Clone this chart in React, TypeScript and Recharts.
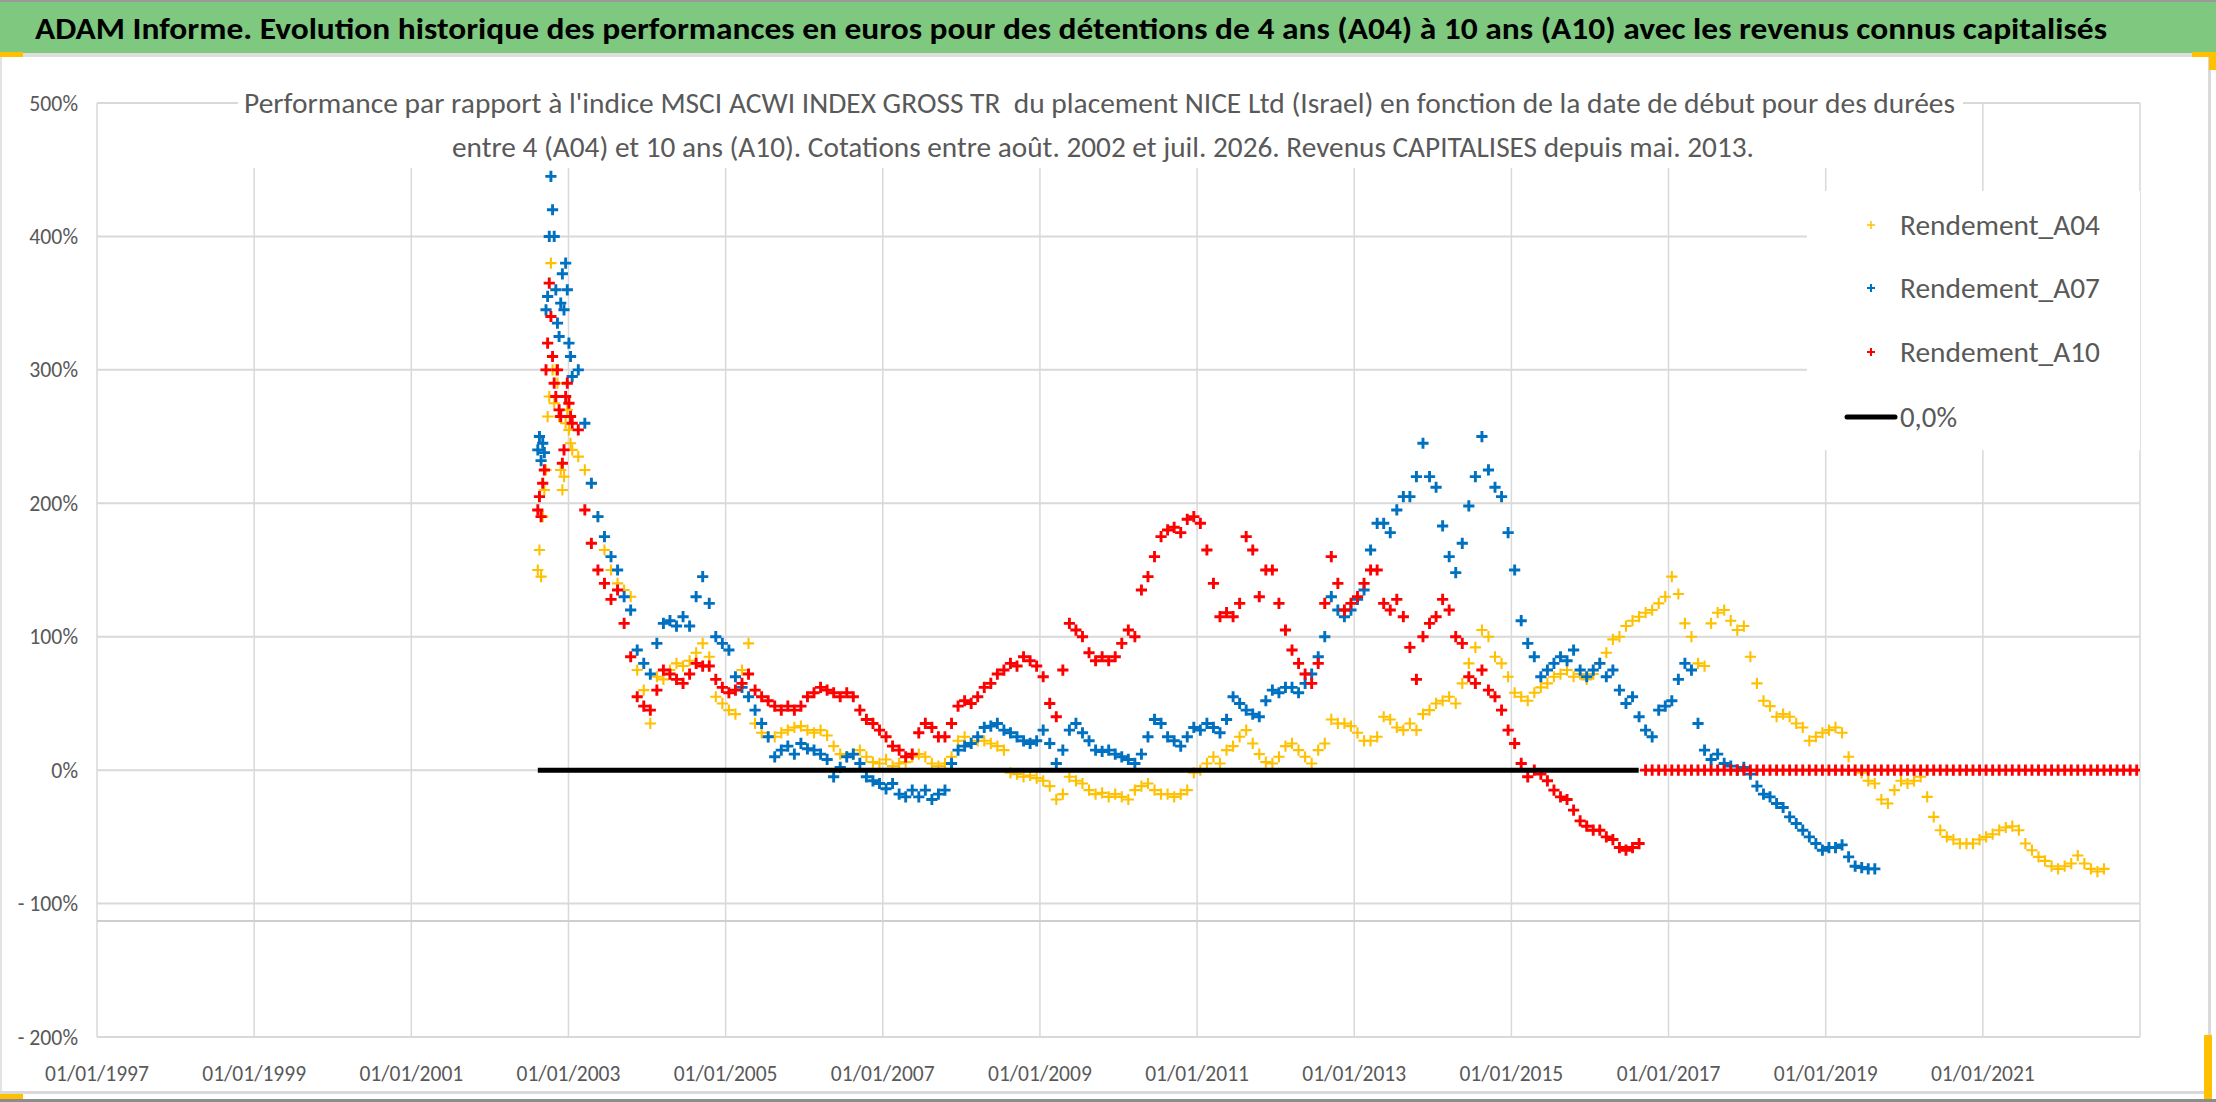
import React from 'react';
import { ScatterChart, Scatter, XAxis, YAxis, CartesianGrid, ReferenceLine, Legend } from 'recharts';

// ---------- axes ----------
const X_DOMAIN = [1997, 2023];
const X_TICKS = [1997, 1999, 2001, 2003, 2005, 2007, 2009, 2011, 2013, 2015, 2017, 2019, 2021];
const Y_DOMAIN = [-200, 500];
const Y_TICKS = [-200, -100, 0, 100, 200, 300, 400, 500];
const AXIS_CROSS = -113;

// ---------- sampling of the series (decimal years) ----------
const EARLY_START = 2002.61; // weekly samples, Aug 2002 - Jan 2003
const EARLY_STEP = 1 / 48;
const MONTHLY_START = 2003.125; // monthly samples from Feb 2003
const MONTHLY_STEP = 1 / 12;
const A10_TAIL_START = 2016.708;

// ---------- Rendement_A04 (%) ----------
const A04_EARLY = [150, 165, 145, 190, 210, 225, 265, 280, 380, 300, 275, 300, 290, 265, 225, 210, 220, 260, 270, 255, 245, 240];
const A04_MONTHLY = [
  235, 225, 215, 190, 165, 150, 140, 135, 130, 75, 60, 35, 70, 68, 75, 80, 78, 82, 88, 95,
  85, 55, 50, 45, 42, 75, 95, 35, 28, 25, 25, 28, 30, 32, 33, 30, 28, 30, 26, 18,
  12, 10, 12, 15, 10, 6, 5, 8, 3, 5, 6, 10, 12, 10, 5, 3,
  5, 10, 22, 25, 20, 22, 22, 20, 18, 15, -2, -3, -5, -4, -6, -8, -12, -22, -18, -5,
  -8, -10, -15, -18, -17, -20, -18, -20, -22, -15, -12, -10, -15, -18, -18, -20, -18, -15, -2, 0,
  5, 10, 5, 15, 18, 25, 30, 20, 12, 6, 5, 10, 18, 20, 15, 10, 5, 15, 20, 38, 35,
  35, 33, 28, 22, 22, 25, 40, 38, 32, 30, 35, 30, 42, 45, 50, 52, 55, 50, 65, 80,
  92, 105, 100, 85, 80, 70, 58, 55, 52, 58, 62, 65, 70, 72, 75, 70, 72, 68, 72, 80,
  88, 98, 100, 108, 112, 115, 118, 120, 125, 130, 145, 132, 110, 100, 80, 78, 110, 118, 120, 112, 105,
  108, 85, 65, 52, 48, 40, 42, 40, 35, 32, 22, 25, 28, 30, 32, 28, 10, 0, -2, -8,
  -10, -22, -25, -15, -8, -10, -8, -5, -20, -35, -45, -50, -52, -55, -55, -55, -52, -50, -48, -45,
  -43, -42, -45, -55, -60, -65, -68, -72, -74, -72, -70, -64, -70, -74, -76, -74,
];

// ---------- Rendement_A07 (%) ----------
const A07_EARLY = [240, 250, 232, 245, 238, 345, 355, 400, 445, 420, 400, 360, 335, 325, 350, 372, 345, 380, 360, 320, 310, 295];
const A07_MONTHLY = [
  300, 260, 215, 190, 175, 160, 150, 130, 120, 90, 80, 72, 95, 110, 112, 108, 115, 108, 130, 145,
  125, 100, 95, 90, 70, 62, 55, 45, 35, 25, 10, 15, 18, 12, 20, 16, 15, 12, 8, -5,
  2, 10, 12, 5, -5, -8, -10, -14, -10, -18, -20, -15, -20, -15, -22, -18,
  -15, 5, 15, 18, 20, 25, 32, 33, 35, 30, 28, 25, 22, 20, 22, 30, 20, 5, 15, 30,
  35, 28, 22, 15, 14, 15, 12, 10, 8, 5, 12, 25, 38, 35, 25, 22, 18, 25, 32, 30,
  35, 32, 28, 38, 55, 50, 45, 42, 40, 52, 60, 58, 62, 62, 58, 65, 72, 85, 100, 130, 120,
  115, 120, 128, 135, 165, 185, 185, 178, 195, 205, 205, 220, 245, 220, 212, 183, 160, 148, 170, 198,
  220, 250, 225, 212, 205, 178, 150, 112, 95, 85, 70, 75, 80, 85, 82, 90, 75, 70, 75, 80,
  70, 75, 60, 50, 55, 40, 30, 25, 45, 48, 52, 68, 80, 75, 35, 15, 8, 12, 5, 3, 0,
  2, -3, -12, -18, -20, -25, -28, -35, -40, -45, -50, -55, -60, -58, -58, -56, -65, -72, -73, -74, -74,
];

// ---------- Rendement_A10 (%) ----------
const A10_EARLY = [195, 205, 190, 215, 225, 300, 320, 365, 340, 310, 290, 280, 300, 270, 265, 230, 240, 280, 290, 275, 265, 260];
const A10_MONTHLY = [
  255, 195, 170, 150, 140, 128, 135, 110, 85, 55, 48, 45, 60, 75, 72, 68, 65, 72, 80, 78,
  78, 68, 62, 58, 60, 65, 72, 60, 55, 52, 48, 45, 48, 45, 48, 55, 58, 62, 60, 58,
  55, 58, 55, 45, 38, 35, 30, 25, 18, 15, 10, 12, 28, 35, 32, 25,
  25, 35, 48, 52, 50, 55, 62, 65, 72, 75, 80, 78, 85, 82, 78, 70, 50, 40, 75, 110,
  105, 100, 88, 82, 85, 82, 85, 95, 105, 100, 135, 145, 160, 175, 180, 182, 178, 188, 190, 185,
  165, 140, 115, 118, 115, 125, 175, 165, 130, 150, 150, 125, 105, 90, 80, 72, 65, 80, 125, 160, 140,
  120, 125, 130, 140, 150, 150, 125, 120, 128, 115, 92, 68, 100, 110, 115, 128, 120, 100, 95, 70,
  65, 75, 60, 55, 45, 30, 20, 5, -5, 0, -3, -8, -15, -20, -22, -30, -38, -42, -45, -45,
  -50, -52, -58, -60, -58, -55,
];
const A10_TAIL = [
  0, 0, 0, 0, 0, 0, 0, 0, 0, 0, 0, 0, 0, 0, 0, 0, 0, 0, 0, 0,
  0, 0, 0, 0, 0, 0, 0, 0, 0, 0, 0, 0, 0, 0, 0, 0, 0, 0, 0, 0,
  0, 0, 0, 0, 0, 0, 0, 0, 0, 0, 0, 0, 0, 0, 0, 0, 0, 0, 0, 0,
  0, 0, 0, 0, 0, 0, 0, 0, 0, 0, 0, 0, 0, 0, 0, 0,
];

// ---------- 0,0% reference series ----------
const ZERO_X = [2002.61, 2016.62];
const ZERO_Y = [0, 0];

// ---------- texts ----------
const TITLE = 'ADAM Informe. Evolution historique des performances en euros pour des détentions de 4 ans (A04) à 10 ans (A10) avec les revenus connus capitalisés';
const SUB1 = "Performance par rapport à l'indice MSCI ACWI INDEX GROSS TR  du placement NICE Ltd (Israel) en fonction de la date de début pour des durées";
const SUB2 = 'entre 4 (A04) et 10 ans (A10). Cotations entre août. 2002 et juil. 2026. Revenus CAPITALISES depuis mai. 2013.';

const YELLOW = '#FFC000';
const BLUE = '#0070C0';
const RED = '#FF0000';
const GREY_TXT = '#595959';
const FONT = "Carlito, 'Liberation Sans Narrow', 'Open Sans', 'Noto Sans', sans-serif";

function build(start: number, step: number, values: number[]) {
  return values.map((v, i) => ({ x: start + i * step, y: v }));
}

const a04Data = [...build(EARLY_START, EARLY_STEP, A04_EARLY), ...build(MONTHLY_START, MONTHLY_STEP, A04_MONTHLY)];
const a07Data = [...build(EARLY_START, EARLY_STEP, A07_EARLY), ...build(MONTHLY_START, MONTHLY_STEP, A07_MONTHLY)];
const a10Data = [
  ...build(EARLY_START, EARLY_STEP, A10_EARLY),
  ...build(MONTHLY_START, MONTHLY_STEP, A10_MONTHLY),
  ...build(A10_TAIL_START, MONTHLY_STEP, A10_TAIL),
];
const zeroData = ZERO_X.map((x, i) => ({ x, y: ZERO_Y[i] }));

const SERIES = [
  { name: 'Rendement_A04', color: YELLOW, width: 2.1, data: a04Data },
  { name: 'Rendement_A07', color: BLUE, width: 2.9, data: a07Data },
  { name: 'Rendement_A10', color: RED, width: 2.9, data: a10Data },
];

// Calibri-like advance widths (em) used to size tick labels
const CW: Record<string, number> = { '/': 0.386, '%': 0.715, '-': 0.306, ' ': 0.226 };
function textW(s: string, size: number) {
  let w = 0;
  for (const c of s) w += CW[c] !== undefined ? CW[c] : 0.507;
  return w * size;
}

const fmtDate = (v: number) => `01/01/${v}`;
const fmtPct = (v: number) => (v < 0 ? `- ${-v}%` : `${v}%`);

const makePlus = (color: string, w: number) => (props: any) => {
  const { cx, cy } = props;
  if (cx == null || cy == null || isNaN(cx) || isNaN(cy)) return <g />;
  const r = 5.6;
  return (
    <path
      d={`M${cx - r},${cy}H${cx + r}M${cx},${cy - r}V${cy + r}`}
      stroke={color}
      strokeWidth={w}
      fill="none"
    />
  );
};

const XTick = (props: any) => {
  const { x, y, payload } = props;
  const label = fmtDate(payload.value);
  const fs = 21.5;
  return (
    <text x={x} y={y + 43.5} textAnchor="middle" fill={GREY_TXT} fontSize={fs} fontFamily={FONT}
      textLength={textW(label, fs)} lengthAdjust="spacingAndGlyphs">
      {label}
    </text>
  );
};

const YTick = (props: any) => {
  const { x, y, payload } = props;
  const label = fmtPct(payload.value);
  const fs = 21.8;
  return (
    <text x={x - 19} y={y + 7.5} textAnchor="end" fill={GREY_TXT} fontSize={fs} fontFamily={FONT}
      textLength={textW(label, fs)} lengthAdjust="spacingAndGlyphs" style={{ whiteSpace: 'pre' }}>
      {label}
    </text>
  );
};

const LEGEND_ROWS = [34, 97, 161, 226];
const LEGEND_TEXT_W = [200, 200, 200, 57];

const renderLegend = () => {
  const items = [
    ...SERIES.map((s) => ({ name: s.name, color: s.color, width: s.width, kind: 'plus' })),
    { name: '0,0%', color: '#000000', width: 5, kind: 'line' },
  ];
  return (
    <svg width={333} height={259} style={{ display: 'block', background: '#ffffff' }}>
      <rect x={0} y={0} width={333} height={259} fill="#ffffff" />
      {items.map((it, i) => {
        const cy = LEGEND_ROWS[i];
        return (
          <g key={it.name}>
            {it.kind === 'plus' ? (
              <path d={`M${60},${cy}H${68}M${64},${cy - 4}V${cy + 4}`} stroke={it.color} strokeWidth={it.width * 0.7} />
            ) : (
              <line x1={40} x2={88} y1={cy} y2={cy} stroke={it.color} strokeWidth={it.width} strokeLinecap="round" />
            )}
            <text x={93} y={cy + 10} fill={GREY_TXT} fontSize={28} fontFamily={FONT}
              textLength={LEGEND_TEXT_W[i]} lengthAdjust="spacingAndGlyphs">
              {it.name}
            </text>
          </g>
        );
      })}
    </svg>
  );
};

const abs = (l: number, t: number, w: number, h: number, bg: string): React.CSSProperties => ({
  position: 'absolute', left: l, top: t, width: w, height: h, background: bg,
});

export default function App() {
  return (
    <div style={{ position: 'absolute', left: 0, top: 0, width: 2216, height: 1102, background: '#ffffff', overflow: 'hidden' }}>
      <div style={{ position: 'absolute', left: 0, top: 0 }}>
        <ScatterChart width={2216} height={1102} margin={{ top: 103, right: 76, bottom: 0, left: 0 }}>
          <CartesianGrid horizontal={true} vertical={false} stroke="#d9d9d9" strokeWidth={2} />
          <CartesianGrid horizontal={false} vertical={true} stroke="#d9d9d9" strokeWidth={1.5} />
          <XAxis type="number" dataKey="x" domain={X_DOMAIN} ticks={X_TICKS} interval={0} height={65}
            allowDataOverflow axisLine={false} tickLine={false} tickSize={0} tickMargin={0}
            tick={(p: any) => <XTick {...p} />} />
          <YAxis type="number" dataKey="y" domain={Y_DOMAIN} ticks={Y_TICKS} interval={0} width={97}
            allowDataOverflow axisLine={false} tickLine={false} tickSize={0} tickMargin={0}
            tick={(p: any) => <YTick {...p} />} />
          <ReferenceLine y={AXIS_CROSS} stroke="#cfcfcf" strokeWidth={2} />
          {SERIES.map((s) => (
            <Scatter key={s.name} name={s.name} data={s.data} fill={s.color}
              shape={makePlus(s.color, s.width)} isAnimationActive={false} />
          ))}
          <Scatter name="0,0%" data={zeroData} fill="#000000" line={{ stroke: '#000000', strokeWidth: 5 }}
            shape={() => <g />} isAnimationActive={false} />
          <Legend content={renderLegend} layout="horizontal" verticalAlign="middle" align="center"
            wrapperStyle={{ position: 'absolute', left: 1807, top: 191, width: 333, height: 259, margin: 0, padding: 0 }} />
        </ScatterChart>
      </div>

      {/* title bar and frame */}
      <div style={abs(0, 0, 2216, 2, '#9a9a9a')} />
      <div style={abs(0, 2, 2216, 51, '#7ec87f')} />
      <div style={abs(0, 53, 2211, 4, '#dedede')} />
      <div style={abs(0, 57, 2, 1036, '#e3e3e3')} />
      <div style={abs(2208, 57, 3, 1036, '#d9d9d9')} />
      <div style={abs(0, 1091, 2211, 3, '#d9d9d9')} />
      <div style={abs(0, 1099, 2216, 3, '#8c8c8c')} />
      <div style={abs(0, 52, 23, 5, YELLOW)} />
      <div style={abs(2192, 52, 24, 5, YELLOW)} />
      <div style={abs(2209, 52, 7, 18, YELLOW)} />
      <div style={abs(0, 1094, 23, 5, YELLOW)} />
      <div style={abs(2204, 1035, 8, 64, YELLOW)} />

      <svg width={2216} height={60} style={{ position: 'absolute', left: 0, top: 0 }}>
        <text x={35} y={39} fill="#000000" fontSize={31} fontWeight="bold" fontFamily={FONT}
          textLength={2072} lengthAdjust="spacingAndGlyphs">
          {TITLE}
        </text>
      </svg>

      {/* chart subtitle box (covers the grid like the original) */}
      <svg width={1725} height={110} style={{ position: 'absolute', left: 238, top: 58 }}>
        <rect x={0} y={0} width={1725} height={110} fill="#ffffff" />
        <text x={6} y={55} fill={GREY_TXT} fontSize={28} fontFamily={FONT} style={{ whiteSpace: 'pre' }}
          textLength={1711} lengthAdjust="spacingAndGlyphs">
          {SUB1}
        </text>
        <text x={214} y={99} fill={GREY_TXT} fontSize={28} fontFamily={FONT}
          textLength={1302} lengthAdjust="spacingAndGlyphs">
          {SUB2}
        </text>
      </svg>
    </div>
  );
}
